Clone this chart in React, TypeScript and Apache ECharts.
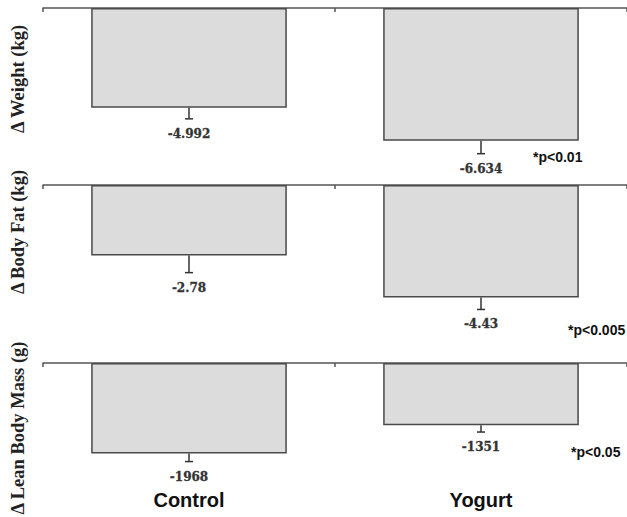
import React, { useEffect, useRef } from "react";
import * as echarts from "echarts";

const categories = ["Control", "Yogurt"];

const weightMeans = [-4.992, -6.634];
const weightErrs = [0.55, 0.65];

const fatMeans = [-2.78, -4.43];
const fatErrs = [0.67, 0.47];

const leanMeans = [-1968, -1351];
const leanErrs = [175, 150];

const yNames = ["Δ Weight (kg)", "Δ Body Fat (kg)", "Δ Lean Body Mass (g)"];
const pLabels = ["*p<0.01", "*p<0.005", "*p<0.05"];

const BAR_FILL = "#dcdcdc";
const EDGE = "#4a4a4a";

function errorRender(params: any, api: any) {
  const x = api.value(0);
  const m = api.value(1);
  const e = api.value(2);
  const p0 = api.coord([x, m]);
  const p1 = api.coord([x, m - e]);
  return {
    type: "group",
    children: [
      {
        type: "line",
        shape: { x1: p0[0], y1: p0[1], x2: p1[0], y2: p1[1] },
        style: { stroke: "#333", lineWidth: 1.5 },
      },
      {
        type: "line",
        shape: { x1: p1[0] - 4, y1: p1[1], x2: p1[0] + 4, y2: p1[1] },
        style: { stroke: "#333", lineWidth: 1.5 },
      },
      {
        type: "text",
        x: p1[0],
        y: p1[1] + 15,
        style: {
          text: String(m),
          fontFamily: "DejaVu Serif",
          fontWeight: "bold",
          fontSize: 12,
          fill: "#333",
          stroke: "#333",
          lineWidth: 0.3,
          align: "center",
          verticalAlign: "middle",
        },
      },
    ],
  };
}

export default function App() {
  const ref = useRef<HTMLDivElement>(null);
  useEffect(() => {
    if (!ref.current) return;
    const chart = echarts.init(ref.current, null, { renderer: "svg" });
    const grids = [
      { left: 43, right: 0, top: 8, height: 140 },
      { left: 43, right: 0, top: 185, height: 127 },
      { left: 43, right: 0, top: 363, height: 115 },
    ];
    const mins = [-7, -5, -2500];
    const means = [weightMeans, fatMeans, leanMeans];
    const errs = [weightErrs, fatErrs, leanErrs];

    const xAxes: any[] = grids.map((_, i) => ({
      type: "category",
      gridIndex: i,
      data: categories,
      position: "top",
      axisLine: { onZero: true, lineStyle: { color: "#555", width: 1.5 } },
      axisTick: { show: true, inside: true, length: 4, lineStyle: { color: "#555", width: 1.5 } },
      axisLabel: { show: false },
      splitLine: { show: false },
    }));
    xAxes.push({
      type: "category",
      gridIndex: 2,
      data: categories,
      position: "bottom",
      axisLine: { show: false, onZero: false },
      axisTick: { show: false },
      axisLabel: {
        show: true,
        margin: 12,
        fontFamily: "Liberation Sans",
        fontWeight: "bold",
        fontSize: 20,
        color: "#111",
      },
    });

    const yAxes = grids.map((_, i) => ({
      type: "value",
      gridIndex: i,
      min: mins[i],
      max: 0,
      axisLine: { show: false },
      axisTick: { show: false },
      axisLabel: { show: false },
      splitLine: { show: false },
    }));

    const series: any[] = [];
    grids.forEach((_, i) => {
      series.push({
        type: "bar",
        xAxisIndex: i,
        yAxisIndex: i,
        data: means[i],
        barWidth: "67%",
        itemStyle: { color: BAR_FILL, borderColor: EDGE, borderWidth: 1.5 },
        z: 2,
      });
      series.push({
        type: "custom",
        xAxisIndex: i,
        yAxisIndex: i,
        data: means[i].map((m, j) => [j, m, errs[i][j]]),
        renderItem: errorRender,
        z: 3,
      });
    });

    const nameY = [79, 232, 428];
    const pPos = [
      [533, 157],
      [568, 330],
      [571, 452],
    ];
    const graphic: any[] = [];
    yNames.forEach((n, i) => {
      graphic.push({
        type: "text",
        x: 18,
        y: nameY[i],
        rotation: Math.PI / 2,
        style: {
          text: n,
          fontFamily: "Liberation Serif",
          fontWeight: "bold",
          fontSize: 18.5,
          fill: "#222",
          align: "center",
          verticalAlign: "middle",
        },
      });
    });
    pLabels.forEach((p, i) => {
      graphic.push({
        type: "text",
        x: pPos[i][0],
        y: pPos[i][1],
        style: {
          text: p,
          fontFamily: "Liberation Sans",
          fontWeight: "bold",
          fontSize: 14,
          fill: "#111",
          align: "left",
          verticalAlign: "middle",
        },
      });
    });

    chart.setOption({
      animation: false,
      backgroundColor: "#ffffff",
      grid: grids,
      xAxis: xAxes,
      yAxis: yAxes,
      series,
      graphic,
    });
    return () => chart.dispose();
  }, []);
  return <div ref={ref} style={{ width: 627, height: 517, position: "fixed", left: 0, top: 0 }} />;
}
